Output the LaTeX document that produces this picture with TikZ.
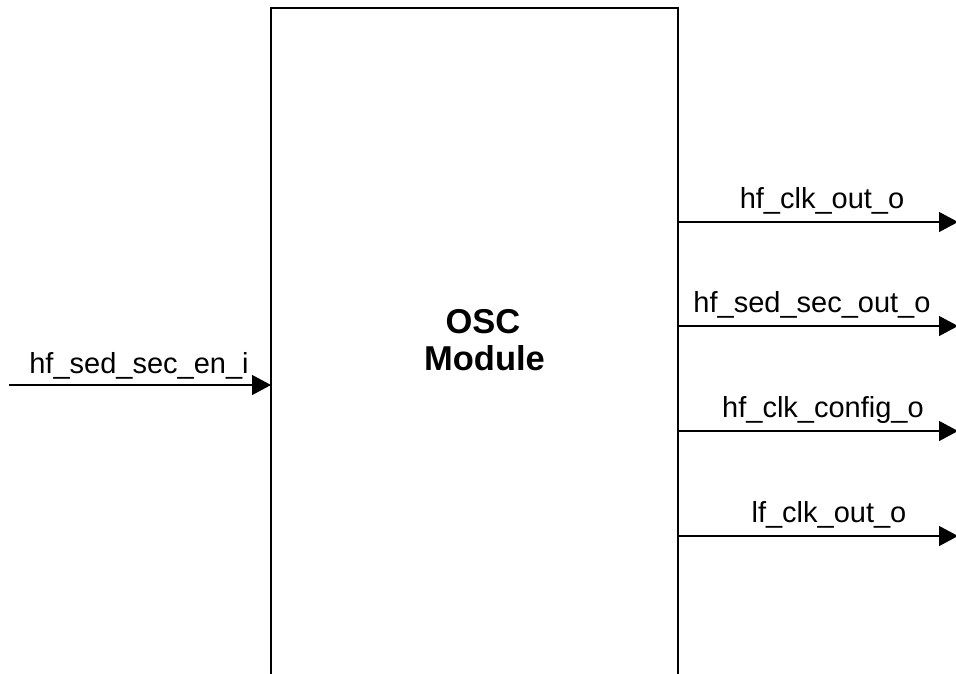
\documentclass[tikz,border=0pt]{standalone}
\usepackage{fontspec}
\setmainfont{Liberation Sans}
\usetikzlibrary{arrows.meta}
\tikzset{
  sig/.style={line width=1.3pt, -{Triangle[length=19pt,width=20pt]}},
  lbl/.style={font=\fontsize{29}{29}\selectfont, anchor=base, inner sep=0pt},
  ttl/.style={font=\bfseries\fontsize{34.5}{37}\selectfont, anchor=base, inner sep=0pt},
  blk/.style={draw, line width=1.8pt, anchor=north west, inner sep=0pt, outer sep=0pt}
}
\begin{document}
\begin{tikzpicture}[x=1pt,y=-1pt]
\useasboundingbox (0,0) rectangle (956,673);
\clip (0,0) rectangle (956,673);
\node[blk, minimum width=407pt, minimum height=700pt] (osc) at (271,8) {};
\node[ttl] (t1) at (483,333) {OSC};
\node[ttl] (t2) at (484.5,370) {Module};
% input
\coordinate (in) at (9,385);
\draw[sig] (in) -- (osc.west |- in);
\node[lbl] (lin) at (139,373) {hf\_sed\_sec\_en\_i};
% outputs
\coordinate (o1) at (958,222);
\coordinate (o2) at (958,326);
\coordinate (o3) at (958,431);
\coordinate (o4) at (958,536);
\draw[sig] (osc.east |- o1) -- (o1);
\draw[sig] (osc.east |- o2) -- (o2);
\draw[sig] (osc.east |- o3) -- (o3);
\draw[sig] (osc.east |- o4) -- (o4);
\node[lbl] (l1) at (822,208) {hf\_clk\_out\_o};
\node[lbl] (l2) at (812,312) {hf\_sed\_sec\_out\_o};
\node[lbl] (l3) at (823,417) {hf\_clk\_config\_o};
\node[lbl] (l4) at (829,522) {lf\_clk\_out\_o};
\end{tikzpicture}
\end{document}
